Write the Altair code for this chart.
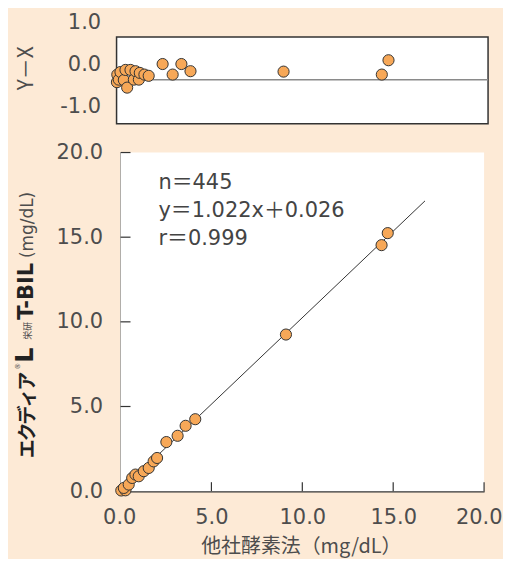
import altair as alt
import pandas as pd

# ---- data ----
main_x = [0.04, 0.27, 0.18, 0.45, 0.64, 0.82, 1.00, 1.28, 1.55, 1.82, 2.01, 2.52, 3.14, 3.58, 4.11, 9.10, 14.36, 14.70]
main_y = [0.04, 0.05, 0.19, 0.39, 0.78, 0.98, 0.88, 1.18, 1.37, 1.76, 1.96, 2.90, 3.27, 3.86, 4.25, 9.25, 14.53, 15.24]

diff_x = [0.02, 0.04, 0.12, 0.21, 0.39, 0.48, 0.57, 0.75, 0.93, 1.02, 1.20, 1.25, 1.50, 1.73,
          2.48, 3.49, 3.02, 3.98, 8.99, 14.28, 14.64]
diff_y = [-0.41, -0.23, -0.35, -0.17, -0.36, -0.12, -0.54, -0.12, -0.35, -0.15, -0.35, -0.19, -0.23, -0.26,
          0.02, 0.02, -0.23, -0.15, -0.16, -0.23, 0.11]
diff_ref_line = -0.355

slope = 1.022
intercept = 0.026
fit_x = [0.0, 16.75]

axis_ticks = [5, 10, 15, 20]
axis_labels = [0, 5, 10, 15, 20]
diff_labels = [-1.0, 0.0, 1.0]
stats_lines = ["n＝445", "y＝1.022x＋0.026", "r＝0.999"]

x_title = "他社酵素法（mg/dL）"
diff_title = "Y－X"
brand_kana = ["エ", "ク", "デ", "ィ", "ア"]
# y-title segments: text, font size, weight, font, start (y px within plot), baseline x
ytitle_parts = [
    ("®", 7, "normal", "DejaVu Sans", 218, -101),
    ("L", 24, "bold", "DejaVu Sans", 211, -88),
    ("栄研", 9, "normal", "Noto Sans CJK JP", 188, -90),
    ("T-BIL", 21, "bold", "DejaVu Sans", 168, -88),
    ("(mg/dL)", 17, "normal", "DejaVu Sans", 106, -88),
]
KANA_START = 306
KANA_PITCH = 17

ORANGE = "#F7A858"
EDGE = "#333333"
BG = "#FDEAD6"
TXT = "#4d4d4d"
W = 365
H_MAIN = 340
TOP_H = 109        # top panel view incl. room above frame for the "1.0" label
FRAME_TOP = 22

main_df = pd.DataFrame({"x": main_x, "y": main_y})
diff_df = pd.DataFrame({"x": diff_x, "d": diff_y})
fit_df = pd.DataFrame({"x": fit_x, "y": [slope * v + intercept for v in fit_x]})
ticks_df = pd.DataFrame({"t": axis_ticks})
one = pd.DataFrame({"a": [0]})

# ---------- top panel ----------
xs_top = alt.Scale(domain=[0, 20], range=[-4, W + 4], nice=False)
ys_top = alt.Scale(domain=[-1.395, 1.182], nice=False, zero=False)

frame = alt.Chart(one).mark_rect(
    fill="white", stroke=EDGE, strokeWidth=1.5
).encode(x=alt.value(-4), x2=alt.value(W + 4), y=alt.value(FRAME_TOP), y2=alt.value(TOP_H))

ref_rule = alt.Chart(pd.DataFrame({"d": [diff_ref_line]})).mark_rule(
    color="#8a8a8a", strokeWidth=1.5
).encode(
    y=alt.Y("d:Q", scale=ys_top,
            axis=alt.Axis(values=diff_labels, title=diff_title, ticks=False, domain=False, grid=False,
                          labelPadding=20, labelFontSize=21, labelFont="DejaVu Sans", labelColor=TXT,
                          labelExpr="datum.value < 0 ? '-' + format(-datum.value, '.1f') : format(datum.value, '.1f')",
                          titleFont="Noto Sans CJK JP", titleFontSize=21, titleFontWeight="normal",
                          titleColor=TXT, titleAngle=270, titleX=-88, titleY=53,
                          titleAlign="center", titleBaseline="alphabetic")),
    x=alt.value(-4), x2=alt.value(W + 4),
)

top_pts = alt.Chart(diff_df).mark_circle(
    color=ORANGE, stroke=EDGE, strokeWidth=1, size=125, opacity=1
).encode(
    x=alt.X("x:Q", scale=xs_top, axis=None),
    y=alt.Y("d:Q", scale=ys_top),
)

top = alt.layer(frame, ref_rule, top_pts).properties(width=W, height=TOP_H)

# ---------- main panel ----------
xs = alt.Scale(domain=[0, 20], nice=False)
ys = alt.Scale(domain=[0, 20], nice=False)
lab_expr = "format(datum.value, '.1f')"

plot_bg = alt.Chart(one).mark_rect(fill="white").encode(
    x=alt.value(0), x2=alt.value(W), y=alt.value(0), y2=alt.value(H_MAIN)
)

xticks = alt.Chart(ticks_df).mark_rule(color=EDGE, strokeWidth=1.2).encode(
    x=alt.X("t:Q", scale=xs,
            axis=alt.Axis(values=axis_labels, labelExpr=lab_expr, title=x_title,
                          ticks=False, grid=False, domainColor=EDGE, domainWidth=1.5,
                          labelPadding=15, labelFontSize=21, labelFont="DejaVu Sans", labelColor=TXT,
                          labelFlush=True, labelFlushOffset=18,
                          titleFont="Noto Sans CJK JP", titleFontSize=20, titleFontWeight="normal",
                          titleColor=TXT, titleX=181, titleY=62, titleAlign="center",
                          titleBaseline="alphabetic")),
    y=alt.value(H_MAIN), y2=alt.value(H_MAIN - 9),
)
yticks = alt.Chart(ticks_df).mark_rule(color=EDGE, strokeWidth=1.2).encode(
    y=alt.Y("t:Q", scale=ys,
            axis=alt.Axis(values=axis_labels, labelExpr=lab_expr, title=None,
                          ticks=False, grid=False, domainColor=EDGE, domainWidth=1.5,
                          labelPadding=18, labelFontSize=21, labelFont="DejaVu Sans", labelColor=TXT,
                          labelFlush=False)),
    x=alt.value(0), x2=alt.value(10),
)

fit_line = alt.Chart(fit_df).mark_line(color="#333333", strokeWidth=1).encode(
    x=alt.X("x:Q", scale=xs), y=alt.Y("y:Q", scale=ys)
)

pts = alt.Chart(main_df).mark_circle(
    color=ORANGE, stroke=EDGE, strokeWidth=1, size=125, opacity=1
).encode(x=alt.X("x:Q", scale=xs), y=alt.Y("y:Q", scale=ys))

stats = alt.Chart(one).mark_text(
    text=stats_lines, align="left", baseline="alphabetic", lineHeight=28,
    fontSize=21, font="DejaVu Sans, Noto Sans CJK JP", color="#444444"
).encode(x=alt.value(38), y=alt.value(37))

title_layers = []
for i, ch in enumerate(brand_kana):
    title_layers.append(
        alt.Chart(one).mark_text(
            text=ch, fontSize=19, fontWeight="bold", font="Noto Sans CJK JP", color="#222222",
            angle=270, align="left", baseline="alphabetic"
        ).encode(x=alt.value(-87), y=alt.value(KANA_START - i * KANA_PITCH + 1))
    )
for txt, fs, fw, fnt, start, bx in ytitle_parts:
    title_layers.append(
        alt.Chart(one).mark_text(
            text=txt, fontSize=fs, fontWeight=fw, font=fnt, color="#222222" if fw == "bold" else TXT,
            angle=270, align="left", baseline="alphabetic"
        ).encode(x=alt.value(bx), y=alt.value(start))
    )

main = alt.layer(plot_bg, xticks, yticks, fit_line, pts, stats, *title_layers).properties(
    width=W, height=H_MAIN)

chart = alt.vconcat(top, main, spacing=29, bounds="flush").configure(
    background=BG, padding={"left": 5, "top": 2, "right": 0, "bottom": 0}
).configure_view(fill="transparent", stroke="transparent")

chart.save("out.html", embed_options={"renderer": "svg", "actions": False})
